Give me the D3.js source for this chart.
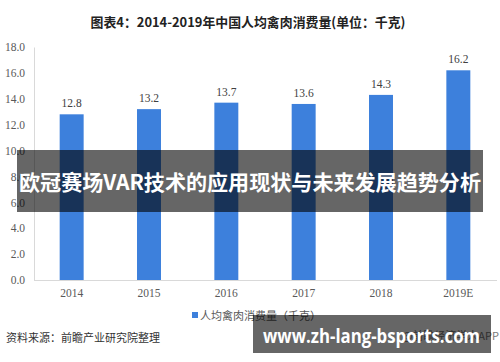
<!DOCTYPE html>
<html><head><meta charset="utf-8">
<script src="https://cdn.jsdelivr.net/npm/d3@7"></script>
<style>html,body{margin:0;padding:0;background:#fff;}svg{display:block;}</style>
</head><body>
<svg id="chart" width="500" height="362"></svg>
<script>
const categories = ["2014","2015","2016","2017","2018","2019E"];
const values = [12.8, 13.2, 13.7, 13.6, 14.3, 16.2];
const yTicks = [0,2,4,6,8,10,12,14,16,18];
const title = "图表4：2014-2019年中国人均禽肉消费量(单位：千克)";
const seriesName = "人均禽肉消费量（千克）";
const source = "资料来源：前瞻产业研究院整理";
const banner = "欧冠赛场VAR技术的应用现状与未来发展趋势分析";
const site = "www.zh-lang-bsports.com";

const svg = d3.select("#chart");
const serif = "'Liberation Serif','DejaVu Serif',serif";
const cjk = "'Noto Sans CJK SC','Noto Sans',sans-serif";

const x = d3.scaleBand().domain(categories).range([33, 497]).paddingInner(0.69).paddingOuter(0.345);
const y = d3.scaleLinear().domain([0, 18]).range([280, 47]);

// title
svg.append("text").attr("x", 248).attr("y", 27).attr("text-anchor","middle")
  .attr("font-family", cjk).attr("font-weight","bold").attr("font-size",13).attr("fill","#222")
  .attr("textLength",315).attr("lengthAdjust","spacingAndGlyphs").text(title);

// y axis
const ya = svg.append("g").attr("transform","translate(34,0)")
  .call(d3.axisLeft(y).tickValues(yTicks).tickFormat(d3.format(".1f")).tickSize(0).tickPadding(9));
ya.select(".domain").attr("stroke","#d9d9d9");
ya.selectAll("text").attr("font-family", serif).attr("font-size",11.5).attr("fill","#595959");

// x axis
const xa = svg.append("g").attr("transform","translate(0,280)")
  .call(d3.axisBottom(x).tickSize(0).tickPadding(9));
xa.select(".domain").attr("stroke","#d9d9d9").attr("d","M34,0.5H497");
xa.selectAll("text").attr("font-family", serif).attr("font-size",11.5).attr("fill","#595959");

// bars
svg.append("g").selectAll("rect").data(values).join("rect")
  .attr("x",(d,i)=>x(categories[i])).attr("width",x.bandwidth())
  .attr("y",d=>y(d)).attr("height",d=>y(0)-y(d)).attr("fill","#3d80dc");

svg.append("g").selectAll("text").data(values).join("text")
  .attr("x",(d,i)=>x(categories[i])+x.bandwidth()/2).attr("y",d=>y(d)-7)
  .attr("text-anchor","middle").attr("font-family",serif).attr("font-size",11.5).attr("fill","#404040")
  .text(d=>d.toFixed(1));

// legend
svg.append("rect").attr("x",192).attr("y",312).attr("width",6).attr("height",6).attr("fill","#3d80dc");
svg.append("text").attr("x",200).attr("y",319.5).attr("font-family",cjk).attr("font-size",11).attr("fill","#595959").text(seriesName);

// source
svg.append("text").attr("x",6).attr("y",342).attr("font-family",cjk).attr("font-size",11).attr("fill","#333").text(source);

// app text behind watermark
svg.append("text").attr("x",499).attr("y",340).attr("text-anchor","end").attr("font-family",cjk).attr("font-size",11).attr("fill","#777").text("@前瞻经济学人APP");

// overlay banner
svg.append("rect").attr("x",17).attr("y",150).attr("width",466).attr("height",62).attr("fill","#000").attr("opacity",0.6);
svg.append("text").attr("x",250).attr("y",190).attr("text-anchor","middle").attr("font-family",cjk)
  .attr("font-weight","bold").attr("font-size",21).attr("fill","#fff")
  .attr("textLength",462).attr("lengthAdjust","spacingAndGlyphs").text(banner);

// bottom site watermark
svg.append("rect").attr("x",253).attr("y",315).attr("width",238).attr("height",38).attr("fill","#000").attr("opacity",0.6);
svg.append("text").attr("x",263).attr("y",343).attr("font-family","'Open Sans','DejaVu Sans',sans-serif")
  .attr("font-weight","bold").attr("font-size",19).attr("fill","#fff")
  .attr("textLength",217).attr("lengthAdjust","spacingAndGlyphs").text(site);
</script>
</body></html>
